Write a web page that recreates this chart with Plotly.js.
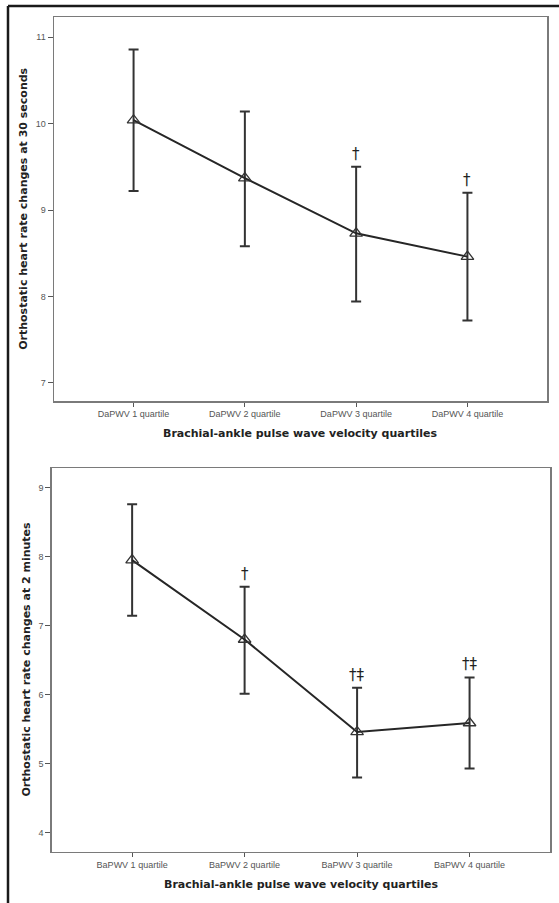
<!DOCTYPE html>
<html>
<head>
<meta charset="utf-8">
<script src="https://cdn.plot.ly/plotly-3.0.1.min.js"></script>
<style>html,body{margin:0;padding:0;background:#fff;}#chart{width:559px;height:903px;}</style>
</head>
<body>
<div id="chart"></div>
<script>
// ---- data ----
const topCategories = ["DaPWV 1 quartile", "DaPWV 2 quartile", "DaPWV 3 quartile", "DaPWV 4 quartile"];
const topMeans = [10.04, 9.37, 8.73, 8.46];
const topUpper = [10.86, 10.14, 9.50, 9.20];
const topLower = [9.22, 8.58, 7.94, 7.72];
const topMarks = ["", "", "†", "†"];

const botCategories = ["BaPWV 1 quartile", "BaPWV 2 quartile", "BaPWV 3 quartile", "BaPWV 4 quartile"];
const botMeans = [7.95, 6.80, 5.46, 5.59];
const botUpper = [8.76, 7.565, 6.10, 6.25];
const botLower = [7.145, 6.015, 4.80, 4.93];
const botMarks = ["", "†", "†‡", "†‡"];

const topYTicks = [7, 8, 9, 10, 11];
const botYTicks = [4, 5, 6, 7, 8, 9];

const xTitle = "Brachial-ankle pulse wave velocity quartiles";
const topYTitle = "Orthostatic heart rate changes at 30 seconds";
const botYTitle = "Orthostatic heart rate changes at 2 minutes";

// ---- helpers ----
const W = 559, H = 903;
const px = v => v / W;
const py = v => (H - v) / H;

function trace(cats, means, up, lo, xa, ya) {
  return {
    type: "scatter", mode: "lines+markers",
    x: cats, y: means, xaxis: xa, yaxis: ya,
    line: {color: "#262626", width: 2},
    marker: {symbol: "triangle-up-open", size: 11, color: "#333", line: {width: 1.3, color: "#333"}},
    error_y: {
      type: "data", symmetric: false,
      array: up.map((u, i) => u - means[i]),
      arrayminus: lo.map((l, i) => means[i] - l),
      color: "#333", thickness: 2, width: 5
    },
    cliponaxis: false,
    hoverinfo: "skip", showlegend: false
  };
}

const tickFont = {family: "Liberation Sans, Arial, sans-serif", size: 9, color: "#555"};
const titleFont = {family: "DejaVu Sans, Verdana, sans-serif", size: 11, color: "#222", weight: "bold"};

function xaxisCfg(domain, anchor) {
  return {
    domain: domain, anchor: anchor, type: "category", range: [-0.715, 3.715],
    showgrid: false, zeroline: false, showline: true, mirror: true,
    linecolor: "#7a7a7a", linewidth: 1.5,
    ticks: "outside", ticklen: 4, tickwidth: 1, tickcolor: "#555",
    tickfont: tickFont, fixedrange: true
  };
}
function yaxisCfg(domain, anchor, range, tv) {
  return {
    domain: domain, anchor: anchor, range: range,
    tickvals: tv, ticktext: tv.map(String),
    showgrid: false, zeroline: false, showline: true, mirror: true,
    linecolor: "#7a7a7a", linewidth: 1.5,
    ticks: "outside", ticklen: 5, tickwidth: 1, tickcolor: "#555",
    tickfont: tickFont, fixedrange: true
  };
}

const annotations = [];
function markAnn(cats, up, marks, xref, yref, shift) {
  marks.forEach((m, i) => {
    if (!m) return;
    annotations.push({
      x: cats[i], y: up[i], xref: xref, yref: yref, text: m, showarrow: false,
      xanchor: "center", yanchor: "bottom", yshift: shift,
      font: {family: "DejaVu Sans, sans-serif", size: 15, color: "#222"}
    });
  });
}
markAnn(topCategories, topUpper, topMarks, "x", "y", 2);
markAnn(botCategories, botUpper, botMarks, "x2", "y2", 2);

// axis titles
annotations.push({xref: "paper", yref: "paper", x: px(300), y: py(434), text: xTitle, showarrow: false,
  xanchor: "center", yanchor: "middle", font: titleFont});
annotations.push({xref: "paper", yref: "paper", x: px(301), y: py(884), text: xTitle, showarrow: false,
  xanchor: "center", yanchor: "middle", font: titleFont});
annotations.push({xref: "paper", yref: "paper", x: px(22.8), y: py(209), text: topYTitle, showarrow: false,
  xanchor: "center", yanchor: "middle", textangle: -90, font: titleFont});
annotations.push({xref: "paper", yref: "paper", x: px(26.5), y: py(659), text: botYTitle, showarrow: false,
  xanchor: "center", yanchor: "middle", textangle: -90, font: titleFont});

const layout = {
  width: W, height: H,
  margin: {l: 0, r: 0, t: 0, b: 0},
  paper_bgcolor: "#fff", plot_bgcolor: "#fff",
  showlegend: false,
  xaxis: xaxisCfg([px(54), px(547)], "y"),
  yaxis: yaxisCfg([py(401), py(17.3)], "x", [6.788, 11.232], topYTicks),
  xaxis2: xaxisCfg([px(51.7), px(550)], "y2"),
  yaxis2: yaxisCfg([py(851.7), py(468.3)], "x2", [3.725, 9.281], botYTicks),
  annotations: annotations,
  shapes: [
    {type: "line", xref: "paper", yref: "paper", x0: px(8), x1: 1, y0: py(6), y1: py(6), line: {color: "#1a1a1a", width: 2.5}},
    {type: "line", xref: "paper", yref: "paper", x0: px(8), x1: px(8), y0: py(6), y1: 0, line: {color: "#1a1a1a", width: 2.5}}
  ]
};

Plotly.newPlot("chart", [
  trace(topCategories, topMeans, topUpper, topLower, "x", "y"),
  trace(botCategories, botMeans, botUpper, botLower, "x2", "y2")
], layout, {displayModeBar: false, staticPlot: true});
</script>
</body>
</html>
